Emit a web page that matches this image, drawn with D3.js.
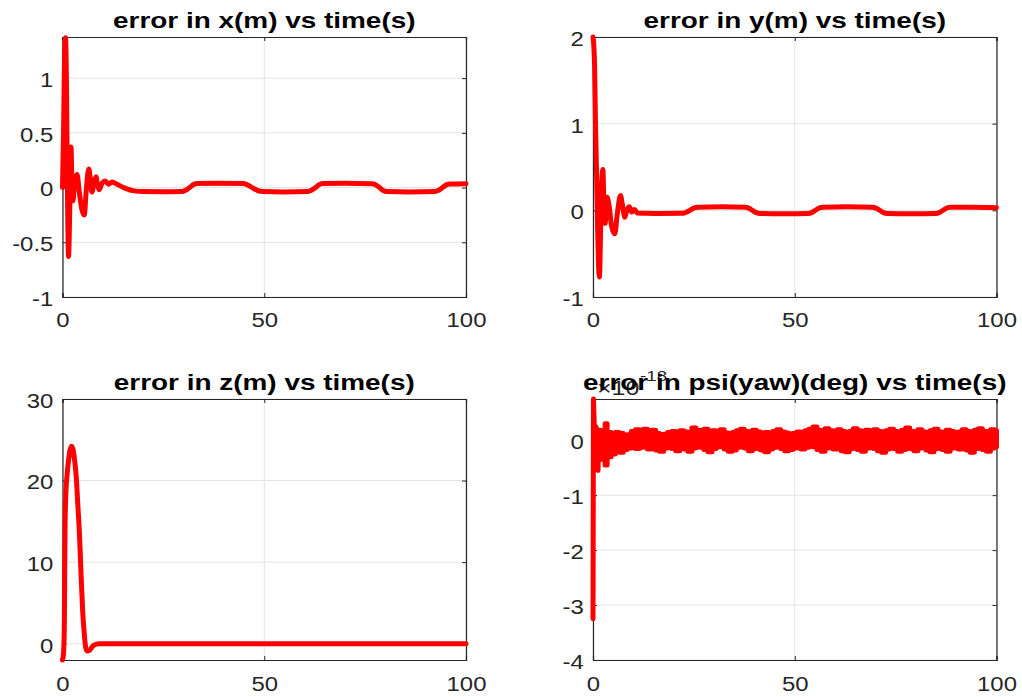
<!DOCTYPE html>
<html><head><meta charset="utf-8">
<script src="https://cdn.jsdelivr.net/npm/d3@7"></script>
<style>body{margin:0;background:#fff}svg{display:block}</style>
</head><body>
<svg id="c" width="1022" height="697"></svg>
<script>
// ---------- data (time s, value) ----------
const timeTicks = [0, 50, 100];

const errX = [[0,0],[0.3,0.6],[0.5,1.2],[0.75,1.37],[1.0,0.9],[1.25,-0.1],[1.5,-0.63],[1.8,-0.2],[2.1,0.37],[2.35,0.05],
 [2.6,-0.12],[3.0,0.05],[3.6,0.12],[4.2,-0.05],[4.8,-0.2],[5.4,-0.25],[5.9,-0.02],[6.5,0.17],[6.9,0.08],[7.3,-0.04],
 [7.8,0.04],[8.3,0.1],[8.7,0.02],[9.1,-0.02],[9.8,0.04],[10.6,0.06],[11.4,0.03],[12.3,0.05],[13.5,0.03],[15.2,0],
 [17.7,-0.03],[20,-0.037],[25,-0.038],[29.5,-0.037],[30.5,-0.025],[31.5,0],[32.5,0.028],[33.5,0.038],[38,0.04],
 [44.7,0.037],[45.7,0.027],[47,0],[48.4,-0.027],[49.6,-0.036],[55,-0.04],[60.8,-0.036],[61.7,-0.025],[62.7,0],
 [63.6,0.027],[64.5,0.037],[70,0.04],[76.7,0.036],[77.6,0.026],[78.6,0],[79.5,-0.027],[80.4,-0.036],[86,-0.04],
 [92.3,-0.036],[93.2,-0.025],[94.2,0],[95.1,0.025],[96,0.032],[100,0.035]];
const errXTicks = [-1, -0.5, 0, 0.5, 1];

const errY = [[0,2],[0.2,1.9],[0.4,1.65],[0.6,1.05],[0.85,0.5],[1.1,-0.1],[1.35,-0.6],[1.6,-0.77],[1.9,-0.2],[2.2,0.35],
 [2.45,0.47],[2.7,0.1],[3.0,-0.15],[3.5,0.15],[4.0,0.05],[4.6,-0.18],[5.4,-0.27],[6.0,-0.05],[6.8,0.17],[7.3,0.06],
 [7.9,-0.08],[8.4,0],[9.0,0.04],[9.6,-0.02],[10.3,0.01],[11,-0.03],[13,-0.033],[16,-0.036],[22,-0.035],
 [22.9,-0.025],[24,0],[25,0.027],[26,0.036],[32,0.04],[37.7,0.036],[38.6,0.026],[39.5,0],[40.5,-0.027],[41.4,-0.036],
 [47,-0.04],[53.3,-0.036],[54.2,-0.026],[55.1,0],[56,0.027],[57,0.036],[63,0.04],[69.2,0.036],[70.1,0.026],[71.1,0],
 [72,-0.027],[73,-0.036],[79,-0.04],[84.9,-0.036],[85.8,-0.026],[86.7,0],[87.7,0.027],[88.6,0.035],[94,0.035],[100,0.03]];
const errYTicks = [-1, 0, 1, 2];

const errZ = [[0,-2],[0.25,-1.2],[0.45,2],[0.55,9],[0.65,15],[0.8,18],[1.1,20.5],[1.5,22.5],[1.9,23.8],[2.3,24.2],
 [2.7,23.6],[3.0,22.5],[3.4,20.5],[3.8,17],[4.2,13.5],[4.6,8.5],[5.0,4],[5.4,1.2],[5.7,-0.3],[6.1,-0.9],
 [6.7,-0.8],[7.5,-0.3],[8.4,-0.05],[9.2,0],[100,0]];
const errZTicks = [0, 10, 20, 30];

// psi error (units of 1e-18 deg): start-up transient, then the noise band's
// upper / lower envelope read once per second from t = 3 s to 100 s
const psiStart = [[0,-3.25],[0.12,0.75],[0.3,0.3],[0.5,-0.2],[0.7,0.25],[0.9,-0.35],[1.1,0.2],[1.25,-0.55],[1.45,0.15],
 [1.7,-0.3],[1.95,0.18],[2.2,-0.35],[2.5,0.1],[2.8,-0.25],[3.0,0.05]];
const psiBandUpper = [
 0.3,0.14,0.1,0.14,0.12,0.08,0.1,0.16,0.19,0.17,
 0.2,0.15,0.18,0.12,0.08,0.11,0.14,0.16,0.13,0.17,
 0.15,0.12,0.22,0.16,0.18,0.2,0.14,0.17,0.15,0.19,
 0.13,0.1,0.14,0.17,0.2,0.16,0.13,0.18,0.15,0.11,
 0.14,0.12,0.16,0.19,0.15,0.13,0.1,0.12,0.15,0.13,
 0.17,0.2,0.24,0.18,0.15,0.21,0.17,0.14,0.19,0.16,
 0.13,0.16,0.21,0.17,0.14,0.18,0.15,0.19,0.16,0.13,
 0.17,0.2,0.16,0.13,0.18,0.22,0.16,0.14,0.19,0.15,
 0.12,0.17,0.2,0.15,0.13,0.18,0.16,0.12,0.15,0.19,
 0.16,0.13,0.18,0.21,0.16,0.14,0.19,0.17];
const psiBandLower = [
 -0.45,-0.3,-0.25,-0.2,-0.22,-0.17,-0.14,-0.12,-0.15,-0.13,
 -0.1,-0.16,-0.12,-0.18,-0.2,-0.14,-0.11,-0.15,-0.19,-0.13,
 -0.16,-0.2,-0.14,-0.1,-0.13,-0.17,-0.21,-0.15,-0.12,-0.1,
 -0.16,-0.2,-0.18,-0.13,-0.1,-0.14,-0.19,-0.15,-0.12,-0.18,
 -0.21,-0.16,-0.13,-0.11,-0.15,-0.19,-0.17,-0.14,-0.12,-0.16,
 -0.13,-0.1,-0.12,-0.17,-0.2,-0.14,-0.11,-0.16,-0.13,-0.19,
 -0.21,-0.15,-0.12,-0.17,-0.2,-0.14,-0.11,-0.15,-0.19,-0.22,
 -0.16,-0.12,-0.15,-0.2,-0.17,-0.13,-0.15,-0.19,-0.14,-0.12,
 -0.18,-0.21,-0.15,-0.13,-0.17,-0.2,-0.14,-0.11,-0.16,-0.13,
 -0.18,-0.22,-0.15,-0.12,-0.17,-0.2,-0.14,-0.12];
const psiBandTimes = d3.range(psiBandUpper.length).map(i => 3 + i);
const psiBand = psiBandTimes.map((t, i) => ({t, hi: psiBandUpper[i], lo: psiBandLower[i]}));
const errPsiTicks = [-4, -3, -2, -1, 0];

// ---------- layout ----------
const panels = [
  {title: "error in x(m) vs time(s)", data: errX, ydom: [-1, 1.376], yticks: errXTicks, x0: 62.5, x1: 466, y0: 37, y1: 297, curve: d3.curveMonotoneX},
  {title: "error in y(m) vs time(s)", data: errY, ydom: [-1, 2], yticks: errYTicks, x0: 593, x1: 996.5, y0: 37, y1: 297, curve: d3.curveMonotoneX},
  {title: "error in z(m) vs time(s)", data: errZ, ydom: [-2, 30], yticks: errZTicks, x0: 62.5, x1: 466, y0: 399, y1: 660, curve: d3.curveMonotoneX},
  {title: "error in psi(yaw)(deg) vs time(s)", data: psiStart, band: psiBand, ydom: [-4, 0.75], yticks: errPsiTicks, x0: 593, x1: 996.5, y0: 399, y1: 660, curve: d3.curveLinear, exp: true}
];

const svg = d3.select("#c");
const FONT = "'Liberation Sans', Arial, sans-serif";
const axisCol = "#262626";
const RED = "#ff0000";
const tickScale = 1.14;

panels.forEach(p => {
  const x = d3.scaleLinear().domain([0, 100]).range([p.x0, p.x1]);
  const y = d3.scaleLinear().domain(p.ydom).range([p.y1, p.y0]);
  const g = svg.append("g");

  // grid
  g.append("g").selectAll("line").data(timeTicks).join("line")
    .attr("x1", d => x(d)).attr("x2", d => x(d)).attr("y1", p.y0).attr("y2", p.y1)
    .attr("stroke", "#e3e3e3").attr("stroke-width", 1);
  g.append("g").selectAll("line").data(p.yticks).join("line")
    .attr("y1", d => y(d)).attr("y2", d => y(d)).attr("x1", p.x0).attr("x2", p.x1)
    .attr("stroke", "#e3e3e3").attr("stroke-width", 1);

  // axes (inward ticks), mirrored on top/right
  const fmt = d => String(d);
  const ax = g.append("g").attr("transform", `translate(0,${p.y1})`)
    .call(d3.axisBottom(x).tickValues(timeTicks).tickSize(-4).tickPadding(0).tickFormat(fmt));
  const axTop = g.append("g").attr("transform", `translate(0,${p.y0})`)
    .call(d3.axisTop(x).tickValues(timeTicks).tickSize(-4).tickFormat(""));
  const ay = g.append("g").attr("transform", `translate(${p.x0},0)`)
    .call(d3.axisLeft(y).tickValues(p.yticks).tickSize(-4).tickPadding(0).tickFormat(fmt));
  const ayR = g.append("g").attr("transform", `translate(${p.x1},0)`)
    .call(d3.axisRight(y).tickValues(p.yticks).tickSize(-4).tickFormat(""));
  [ax, axTop, ay, ayR].forEach(a => {
    a.select(".domain").attr("stroke", axisCol).attr("stroke-width", 1.2);
    a.selectAll(".tick line").attr("stroke", axisCol);
    a.selectAll("text").attr("fill", axisCol).style("font-family", FONT).style("font-size", "21px");
  });
  ax.selectAll("text").attr("y", p.y0 < 100 ? 30 : 31.5).attr("dy", 0)
    .attr("transform", `scale(${tickScale},1)`);
  ay.selectAll("text").attr("x", -8).attr("dy", "0.4em")
    .attr("transform", `scale(${tickScale},1)`);

  // exponent label
  if (p.exp) {
    g.append("text").attr("transform", `translate(${p.x0 + 4},${p.y0 - 4}) scale(1.25,1)`)
      .attr("fill", axisCol).style("font-family", FONT).style("font-size", "20px").text("\u00d710");
    g.append("text").attr("transform", `translate(${p.x0 + 47},${p.y0 - 18}) scale(1.25,1)`)
      .attr("fill", axisCol).style("font-family", FONT).style("font-size", "15px").text("-18");
  }

  // title
  g.append("text")
    .attr("transform", `translate(${(p.x0 + p.x1) / 2},${p.y0 - 9}) scale(1.27,1)`)
    .attr("text-anchor", "middle").attr("fill", "#000")
    .style("font-family", FONT).style("font-size", "22px").style("font-weight", "bold")
    .text(p.title);

  // noise band (dense oscillation rendered as its envelope)
  if (p.band) {
    const area = d3.area().x(d => x(d.t)).y0(d => y(d.lo)).y1(d => y(d.hi)).curve(d3.curveStep);
    g.append("path").datum(p.band).attr("d", area)
      .attr("fill", RED).attr("stroke", RED).attr("stroke-width", 5).attr("stroke-linejoin", "round");
  }

  // data line
  const line = d3.line().x(d => x(d[0])).y(d => y(d[1])).curve(p.curve);
  g.append("path").datum(p.data).attr("d", line)
    .attr("fill", "none").attr("stroke", RED).attr("stroke-width", 5)
    .attr("stroke-linejoin", "round").attr("stroke-linecap", "round");
});
</script>
</body></html>
